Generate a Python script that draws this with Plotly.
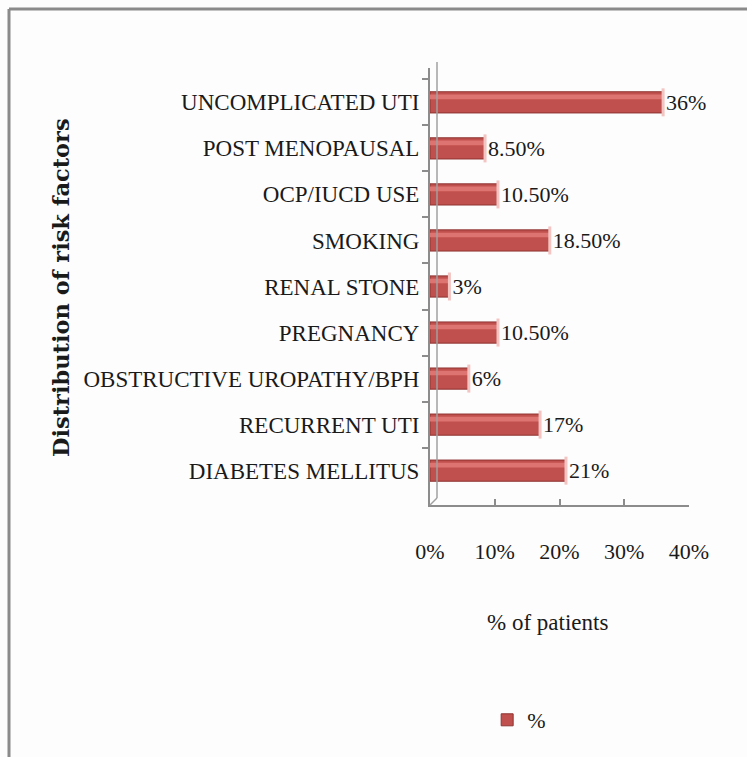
import plotly.graph_objects as go

categories = ["UNCOMPLICATED UTI", "POST MENOPAUSAL", "OCP/IUCD USE", "SMOKING",
              "RENAL STONE", "PREGNANCY", "OBSTRUCTIVE UROPATHY/BPH",
              "RECURRENT UTI", "DIABETES MELLITUS"]
values = [36, 8.5, 10.5, 18.5, 3, 10.5, 6, 17, 21]
value_labels = ["36%", "8.50%", "10.50%", "18.50%", "3%", "10.50%", "6%", "17%", "21%"]
x_ticks = [0, 10, 20, 30, 40]
x_tick_labels = ["0%", "10%", "20%", "30%", "40%"]

W, H = 747, 757
FONT = "Liberation Serif, Times New Roman, serif"

fig = go.Figure()
# main cylinder body
fig.add_trace(go.Bar(
    y=categories, x=values, orientation="h", name="%",
    width=0.46,
    marker=dict(color="#C0504D", line=dict(color="#8E3432", width=1)),
    text=value_labels, textposition="outside", cliponaxis=False, constraintext="none",
    textfont=dict(family=FONT, size=22, color="#1a1a1a"),
))
# highlight band on the cylinder
fig.add_trace(go.Bar(
    y=categories, x=values, orientation="h", showlegend=False,
    width=0.1, offset=-0.17,
    marker=dict(color="#DE7471", line=dict(width=0)),
    hoverinfo="skip",
))
# end caps
fig.add_trace(go.Scatter(
    y=categories, x=values, mode="markers", showlegend=False,
    marker=dict(symbol="line-ns", size=20, line=dict(color="#F2C4C2", width=3)),
    hoverinfo="skip", cliponaxis=False,
))

x0, x1 = 430, 689
y_top, y_bot = 68, 505
fig.update_layout(
    width=W, height=H,
    margin=dict(l=0, r=0, t=0, b=0),
    paper_bgcolor="#FDFDFD", plot_bgcolor="rgba(0,0,0,0)",
    barmode="overlay",
    font=dict(family=FONT, color="#1a1a1a"),
    showlegend=True,
    legend=dict(orientation="h", x=0.695, y=(H - 720) / H, xanchor="center", yanchor="middle",
                font=dict(family=FONT, size=22), itemwidth=30, traceorder="normal"),
    xaxis=dict(domain=[x0 / W, x1 / W], range=[0, 40], tickvals=x_ticks, ticktext=x_tick_labels,
               showgrid=False, zeroline=False, showline=True, linecolor="#8C8C8C", linewidth=2,
               ticks="inside", ticklen=6, tickcolor="#8C8C8C", tickwidth=2,
               tickfont=dict(family=FONT, size=22), ticklabelstandoff=26,
               automargin=False, fixedrange=True),
    yaxis=dict(domain=[(H - y_bot) / H, (H - y_top) / H], autorange="reversed",
               showgrid=False, zeroline=False, showline=True, linecolor="#8C8C8C", linewidth=2,
               ticks="outside", ticklen=6, tickcolor="#8C8C8C", tickwidth=2, tickson="boundaries",
               tickfont=dict(family=FONT, size=23), ticklabelstandoff=4,
               automargin=False, fixedrange=True),
)
fig.add_annotation(text="<b>Distribution of risk factors</b>", xref="paper", yref="paper",
                   x=61 / W, y=(H - 288) / H, xanchor="center", yanchor="middle",
                   textangle=-90, showarrow=False,
                   font=dict(family="DejaVu Serif, serif", size=22.5, color="#1a1a1a"))
fig.add_annotation(text="% of patients", xref="paper", yref="paper",
                   x=547 / W, y=(H - 622) / H, xanchor="center", yanchor="middle", showarrow=False,
                   font=dict(family=FONT, size=23, color="#1a1a1a"))
# outer frame (top and left edges)
fig.add_shape(type="line", xref="paper", yref="paper", x0=9 / W, x1=1, y0=(H - 9) / H, y1=(H - 9) / H,
              line=dict(color="#8A8A8A", width=3))
fig.add_shape(type="line", xref="paper", yref="paper", x0=9 / W, x1=9 / W, y0=0, y1=(H - 9) / H,
              line=dict(color="#8A8A8A", width=3))
# 3D back wall edge
fig.add_shape(type="line", xref="paper", yref="paper", x0=437 / W, x1=437 / W,
              y0=(H - 498) / H, y1=(H - 62) / H, line=dict(color="#A0A0A0", width=1.5))
fig.add_shape(type="line", xref="paper", yref="paper", x0=x0 / W, x1=437 / W,
              y0=(H - y_bot) / H, y1=(H - 498) / H, line=dict(color="#A0A0A0", width=1.5))

fig.write_html("out.html")
